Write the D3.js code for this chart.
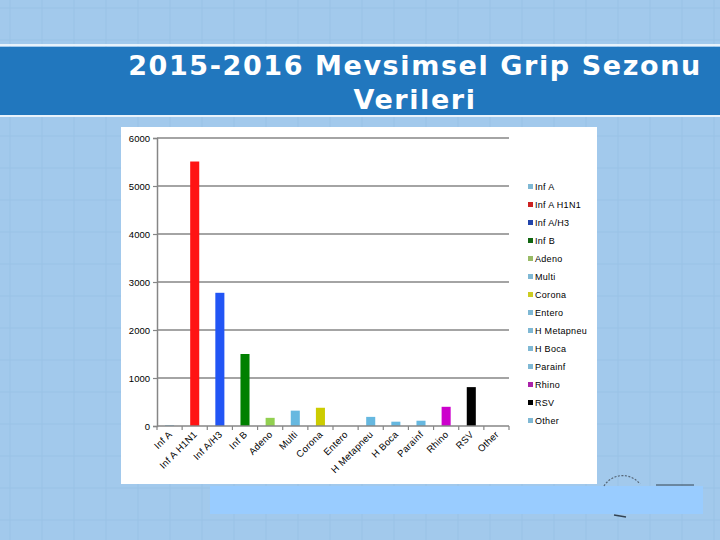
<!DOCTYPE html>
<html><head><meta charset="utf-8">
<script src="https://cdn.jsdelivr.net/npm/d3@7"></script>
<style>body{margin:0;padding:0;overflow:hidden}svg{display:block}</style>
</head><body>
<svg id="c" width="720" height="540"></svg>
<script>
const categories = ["Inf A","Inf A H1N1","Inf A/H3","Inf B","Adeno","Multi","Corona","Entero","H Metapneu","H Boca","Parainf","Rhino","RSV","Other"];
const values = [15,5510,2775,1500,170,320,380,0,190,90,110,400,810,0];
const barColors = ["#66B8E0","#FF1414","#2255F5","#008000","#92D050","#66B8E0","#CCCC00","#66B8E0","#66B8E0","#66B8E0","#66B8E0","#CC00CC","#000000","#66B8E0"];
const legendColors = ["#7FB8D4","#CC2222","#2244AA","#116611","#99BB66","#7FB8D4","#CCCC22","#7FB8D4","#7FB8D4","#7FB8D4","#7FB8D4","#AA22AA","#000000","#7FB8D4"];
const yTicks = [0,1000,2000,3000,4000,5000,6000];
const titleLines = ["2015-2016 Mevsimsel Grip Sezonu","Verileri"];

const svg = d3.select("#c");
// slide background
svg.append("rect").attr("width",720).attr("height",540).attr("fill","#A2C9EC");
const bgGrid = svg.append("g").attr("stroke","#99C2E6").attr("stroke-width",1);
for(let x=10;x<720;x+=32) bgGrid.append("line").attr("x1",x).attr("x2",x).attr("y1",0).attr("y2",540);
for(let y=8;y<540;y+=32) bgGrid.append("line").attr("x1",0).attr("x2",720).attr("y1",y).attr("y2",y);

// title band
svg.append("rect").attr("x",0).attr("y",44).attr("width",720).attr("height",2).attr("fill","#E8F2FB");
svg.append("rect").attr("x",0).attr("y",47).attr("width",720).attr("height",68).attr("fill","#2177BE");
svg.append("rect").attr("x",0).attr("y",115).attr("width",720).attr("height",2).attr("fill","#E8F2FB");
svg.selectAll("text.title").data(titleLines).enter().append("text")
  .attr("class","title").attr("x",415).attr("y",(d,i)=>75+i*34)
  .attr("text-anchor","middle").attr("fill","#FFFFFF")
  .attr("font-family","DejaVu Sans, Verdana, sans-serif").attr("font-weight","bold")
  .attr("font-size",27).attr("letter-spacing","1.6px").text(d=>d);

// bottom light box
svg.append("rect").attr("x",210).attr("y",486).attr("width",493).attr("height",28).attr("fill","#99CCFF");
// faint logo fragments
svg.append("path").attr("d","M604,486 A22,22 0 0 1 640,484").attr("fill","none").attr("stroke","#556677").attr("stroke-width",1.2).attr("stroke-dasharray","2,1.5");
svg.append("line").attr("x1",656).attr("x2",694).attr("y1",485).attr("y2",485).attr("stroke","#334455").attr("stroke-width",1);
svg.append("path").attr("d","M614,515 L626,517").attr("stroke","#334455").attr("stroke-width",1.5);

// chart area
svg.append("rect").attr("x",121).attr("y",127).attr("width",476).attr("height",357).attr("fill","#FFFFFF");

const m = {l:157, r:509, t:138, b:426};
const x = d3.scaleBand().domain(categories).range([m.l,m.r]).paddingInner(0.64).paddingOuter(0.32);
const y = d3.scaleLinear().domain([0,6000]).range([m.b,m.t]);

// gridlines
svg.append("g").selectAll("line").data(yTicks.filter(d=>d>0)).enter().append("line")
  .attr("x1",m.l).attr("x2",m.r).attr("y1",d=>y(d)).attr("y2",d=>y(d))
  .attr("stroke","#868686").attr("stroke-width",1.5);

// bars
svg.append("g").selectAll("rect").data(categories).enter().append("rect")
  .attr("x",d=>x(d)).attr("width",x.bandwidth())
  .attr("y",(d,i)=>y(values[i])).attr("height",(d,i)=>m.b-y(values[i]))
  .attr("fill",(d,i)=>barColors[i]);

// y axis
const yAxis = svg.append("g").attr("transform",`translate(${m.l},0)`)
  .call(d3.axisLeft(y).tickValues(yTicks).tickSize(4).tickPadding(3).tickFormat(d3.format("d")));
yAxis.select(".domain").attr("stroke","#868686").attr("stroke-width",1.5);
yAxis.selectAll(".tick line").attr("stroke","#868686").attr("stroke-width",1.2);
yAxis.selectAll("text").attr("font-family","Liberation Sans, Arial, sans-serif").attr("font-size",9.5).attr("fill","#000");

// x axis with boundary ticks
const bw = (m.r-m.l)/categories.length;
const xg = svg.append("g");
xg.append("line").attr("x1",m.l).attr("x2",m.r).attr("y1",m.b).attr("y2",m.b).attr("stroke","#868686").attr("stroke-width",1.5);
xg.selectAll("line.bt").data(d3.range(categories.length+1)).enter().append("line")
  .attr("class","bt").attr("x1",i=>m.l+i*bw).attr("x2",i=>m.l+i*bw)
  .attr("y1",m.b).attr("y2",m.b+4).attr("stroke","#868686").attr("stroke-width",1.2);
xg.selectAll("text").data(categories).enter().append("text")
  .attr("transform",d=>`translate(${x(d)+x.bandwidth()/2+3},${m.b+9}) rotate(-45)`)
  .attr("text-anchor","end").attr("font-family","Liberation Sans, Arial, sans-serif")
  .attr("font-size",9.5).attr("letter-spacing","0.3px").attr("fill","#000").text(d=>d);

// legend
const lg = svg.append("g").selectAll("g").data(categories).enter().append("g")
  .attr("transform",(d,i)=>`translate(528,${188+i*18})`);
lg.append("rect").attr("x",0).attr("y",-4).attr("width",5).attr("height",5).attr("fill",(d,i)=>legendColors[i]);
lg.append("text").attr("x",7).attr("y",1.8).attr("font-family","Liberation Sans, Arial, sans-serif")
  .attr("font-size",9).attr("letter-spacing","0.3px").attr("fill","#000").text(d=>d);
</script>
</body></html>
